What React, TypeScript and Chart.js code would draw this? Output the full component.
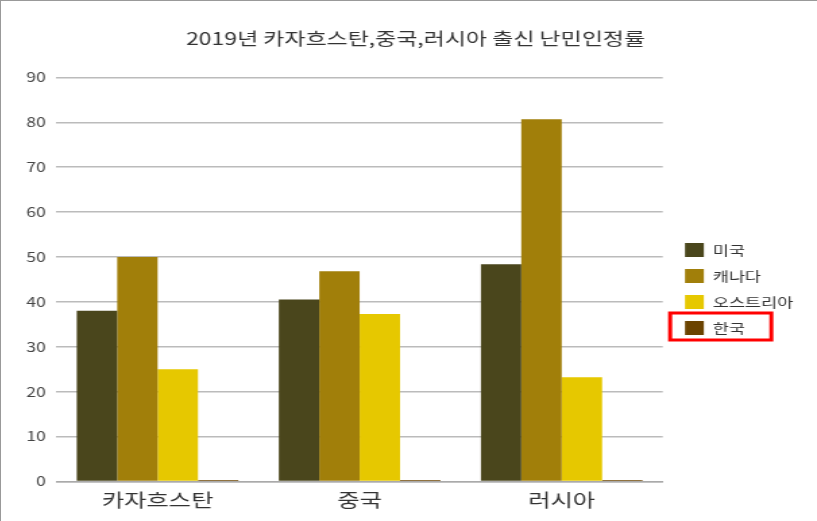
import React, { useEffect, useRef } from "react";
import { Chart, registerables } from "chart.js";

Chart.register(...registerables);

const categories = ["카자흐스탄", "중국", "러시아"];
const seriesNames = ["미국", "캐나다", "오스트리아", "한국"];
const usa = [38, 40.5, 48.4];
const canada = [50, 46.8, 80.7];
const austria = [25, 37.3, 23.2];
const korea = [0.3, 0.3, 0.3];
const colors = ["#4a461c", "#a17f0a", "#e6c800", "#6b4300"];
const titleText = "2019년 카자흐스탄,중국,러시아 출신 난민인정률";

const FONT = "'Noto Sans CJK KR', 'Noto Sans', sans-serif";
// the reference is horizontally stretched; draw narrower and stretch via CSS
const INNER_W = 604;
const INNER_H = 519;

const highlightPlugin = {
  id: "highlightLegend",
  afterLayout(chart: any) {
    const tb = chart.titleBlock;
    if (tb) {
      tb.left += 6;
      tb.right += 6;
    }
  },
  afterDraw(chart: any) {
    const legend = chart.legend;
    if (!legend || !legend.legendHitBoxes || legend.legendHitBoxes.length < 4) return;
    const hb = legend.legendHitBoxes[3];
    const ctx = chart.ctx;
    ctx.save();
    ctx.strokeStyle = "#ff0000";
    ctx.lineWidth = 3;
    ctx.strokeRect(hb.left - 11, hb.top - 8, 75, 27);
    ctx.restore();
  },
};

export default function App() {
  const ref = useRef<HTMLCanvasElement>(null);
  useEffect(() => {
    if (!ref.current) return;
    const data = [usa, canada, austria, korea];
    const chart = new Chart(ref.current, {
      type: "bar",
      data: {
        labels: categories,
        datasets: seriesNames.map((n, i) => ({
          label: n,
          data: data[i],
          backgroundColor: colors[i],
          borderWidth: 0,
          barPercentage: 1,
          categoryPercentage: 0.8,
          yAxisID: "y",
        })),
      },
      plugins: [highlightPlugin],
      options: {
        animation: false,
        responsive: false,
        maintainAspectRatio: false,
        devicePixelRatio: 1,
        layout: { padding: { left: 10, right: 13, top: 27, bottom: 9 } },
        plugins: {
          title: {
            display: true,
            text: titleText,
            color: "#333",
            font: { family: FONT, size: 17, weight: "normal" },
            padding: { top: 0, bottom: 29 },
          },
          legend: {
            position: "right",
            title: { display: true, text: "", font: { size: 10 }, padding: 13.5 },
            labels: {
              boxWidth: 14,
              boxHeight: 14,
              padding: 12,
              color: "#333",
              font: { family: FONT, size: 13 },
            },
          },
          tooltip: { enabled: false },
        },
        scales: {
          x: {
            grid: { display: false },
            border: { color: "#aaa", width: 1.5 },
            ticks: { color: "#333", font: { family: FONT, size: 18 }, padding: 0 },
          },
          y: {
            min: 0,
            max: 90,
            ticks: { stepSize: 10, color: "#444", font: { family: FONT, size: 13 }, padding: 8 },
            grid: { color: "#bbb", lineWidth: 1.5, drawTicks: false },
            border: { display: false },
          },
          gap: {
            type: "linear",
            axis: "y",
            position: "right",
            display: true,
            grid: { display: false, drawTicks: false },
            border: { display: false },
            ticks: { display: false },
            afterFit: (s: any) => {
              s.width = 4.5;
            },
          },
        },
      },
    });
    return () => chart.destroy();
  }, []);
  return (
    <div
      style={{
        position: "fixed",
        left: 0,
        top: 0,
        width: 817,
        height: 521,
        background: "#fff",
        boxSizing: "border-box",
        borderTop: "1px solid #999",
        borderLeft: "1px solid #999",
      }}
    >
      <canvas
        ref={ref}
        width={INNER_W}
        height={INNER_H}
        style={{ display: "block", marginLeft: 1, width: "815px", height: "519px" }}
      />
    </div>
  );
}
